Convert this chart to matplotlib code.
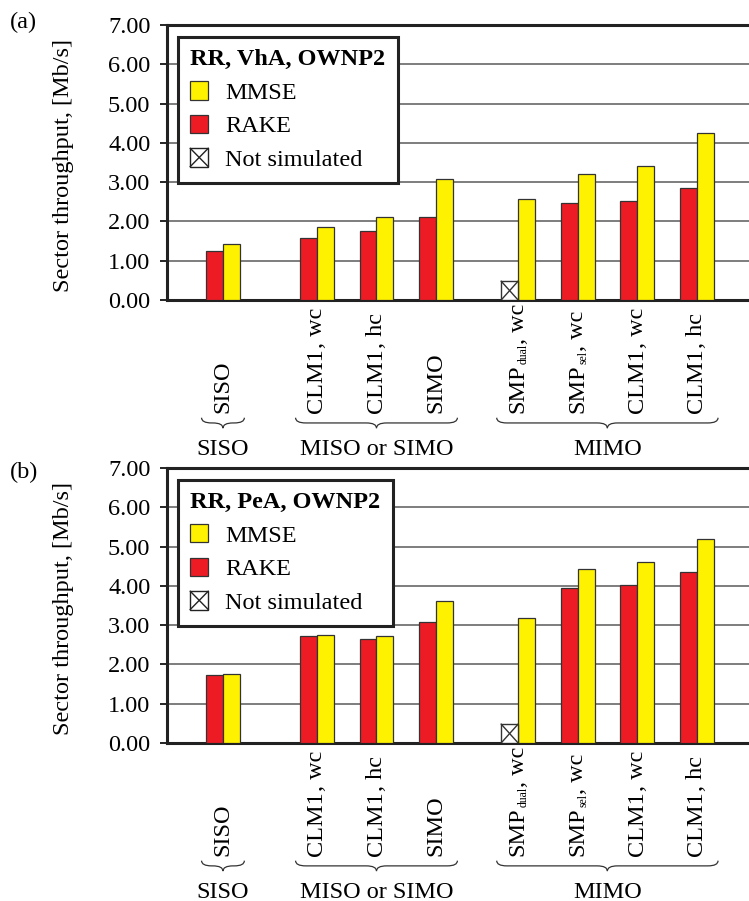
import numpy as np
import matplotlib.pyplot as plt
from matplotlib.patches import Rectangle, Patch, PathPatch
from matplotlib.lines import Line2D
from matplotlib.path import Path
from matplotlib.legend_handler import HandlerBase

plt.rcParams['font.family'] = ['Liberation Serif', 'DejaVu Serif']

# categories, grouped
groups = ["SISO", "MISO or SIMO", "MIMO"]
group_sizes = [1, 3, 4]
cat_main = ["SISO", "CLM1", "CLM1", "SIMO", "SMP", "SMP", "CLM1", "CLM1"]
cat_sub = ["", "", "", "", "dual", "sel", "", ""]
cat_tail = ["", ", wc", ", hc", "", ", wc", ", wc", ", wc", ", hc"]

# panel (a): RR, VhA, OWNP2
rake_a = [1.25, 1.57, 1.76, 2.12, np.nan, 2.46, 2.51, 2.86]
mmse_a = [1.43, 1.86, 2.12, 3.09, 2.58, 3.21, 3.40, 4.26]
# panel (b): RR, PeA, OWNP2
rake_b = [1.73, 2.72, 2.65, 3.07, np.nan, 3.94, 4.02, 4.36]
mmse_b = [1.76, 2.75, 2.72, 3.61, 3.17, 4.43, 4.61, 5.18]
not_sim_height = 0.48  # size of the "Not simulated" marker box

RED = "#ED1C24"
YEL = "#FFF200"
FS = 17.5

# x positions of categories (group starts, unit step inside a group)
group_start = [0.94, 2.52, 5.90]
xpos = np.concatenate([s + np.arange(n) for s, n in zip(group_start, group_sizes)])
bw = 0.285


class NotSimHandler(HandlerBase):
    def create_artists(self, legend, orig_handle, xdescent, ydescent,
                       width, height, fontsize, trans):
        x0, y0 = -xdescent, -ydescent
        r = Rectangle((x0, y0), width, height, facecolor="white",
                      edgecolor="#222222", lw=1.0, transform=trans)
        l1 = Line2D([x0, x0 + width], [y0, y0 + height], color="#222222", lw=1.0, transform=trans)
        l2 = Line2D([x0, x0 + width], [y0 + height, y0], color="#222222", lw=1.0, transform=trans)
        return [r, l1, l2]


class NotSim:
    pass


def brace(ax, x0, x1, ytop, ymid, ytip, r=0.17):
    xm = (x0 + x1) / 2
    verts = [(x0, ytop), (x0, ymid), (x0 + r, ymid),
             (xm - r, ymid),
             (xm, ymid), (xm, ytip),
             (xm, ymid), (xm + r, ymid),
             (x1 - r, ymid),
             (x1, ymid), (x1, ytop)]
    codes = [Path.MOVETO, Path.CURVE3, Path.CURVE3,
             Path.LINETO,
             Path.CURVE3, Path.CURVE3,
             Path.CURVE3, Path.CURVE3,
             Path.LINETO,
             Path.CURVE3, Path.CURVE3]
    ax.add_patch(PathPatch(Path(verts, codes), fill=False, lw=0.9, edgecolor="#333333",
                           transform=ax.get_xaxis_transform(), clip_on=False))


def rotated_label(fig, ax, x, yfrac, main, sub, tail, renderer):
    # stack the pieces of a vertical label from the bottom up (pixels)
    W, H = fig.bbox.width, fig.bbox.height
    xd, yd = ax.transData.transform((x, 0))[0], ax.transAxes.transform((0, yfrac))[1]
    for txt, fs, dx in [(main, FS, 0), (sub, 8.5, 6), (tail, FS, 0)]:
        if not txt:
            continue
        t = fig.text((xd + dx) / W, yd / H, txt, rotation=90, ha="center",
                     va="bottom", fontsize=fs)
        yd += t.get_window_extent(renderer).height


def draw_panel(fig, ax, rake, mmse, title, tag, tag_y):
    ax.set_axisbelow(True)
    ax.yaxis.grid(True, color="#5a5a5a", lw=1.1)
    rake = np.array(rake)
    ok = ~np.isnan(rake)
    ax.bar(xpos[ok] - bw / 2, rake[ok], bw, color=RED, edgecolor="#333333", lw=0.9, zorder=3)
    ax.bar(xpos + bw / 2, mmse, bw, color=YEL, edgecolor="#333333", lw=0.9, zorder=3)
    for x in xpos[~ok]:
        xl = x - bw
        ax.add_patch(Rectangle((xl, 0), bw, not_sim_height, facecolor="white",
                               edgecolor="#333333", lw=1.0, zorder=3))
        ax.plot([xl, xl + bw], [0, not_sim_height], color="#333333", lw=1.0, zorder=4)
        ax.plot([xl, xl + bw], [not_sim_height, 0], color="#333333", lw=1.0, zorder=4)

    ax.set_xlim(0, 9.78)
    ax.set_ylim(0, 7)
    ax.set_yticks(np.arange(0, 8))
    ax.set_yticklabels([f"{v:.2f}" for v in np.arange(0, 8)], fontsize=FS)
    ax.set_xticks([])
    ax.tick_params(axis="y", length=5, width=1.2, pad=7)
    for s in ["left", "top", "bottom"]:
        ax.spines[s].set_linewidth(2.2)
        ax.spines[s].set_color("#222222")
    ax.spines["right"].set_visible(False)
    ax.text(-0.1787, 0.49, "Sector throughput, [Mb/s]", fontsize=FS, rotation=90,
            ha="center", va="center", transform=ax.transAxes)

    renderer = fig.canvas.get_renderer()
    for x, m, sb, tl in zip(xpos, cat_main, cat_sub, cat_tail):
        rotated_label(fig, ax, x, -0.411, m, sb, tl, renderer)

    tr = ax.get_xaxis_transform()
    i = 0
    for g, n in zip(groups, group_sizes):
        x0 = xpos[i] - 0.36
        x1 = xpos[i + n - 1] + 0.36
        brace(ax, x0, x1, -0.428, -0.447, -0.466)
        ax.text((x0 + x1) / 2, -0.542, g, ha="center", va="center",
                fontsize=FS, transform=tr)
        i += n

    handles = [Patch(facecolor=YEL, edgecolor="#333333", lw=0.9),
               Patch(facecolor=RED, edgecolor="#333333", lw=0.9),
               NotSim()]
    leg = ax.legend(handles, ["MMSE", "RAKE", "Not simulated"],
                    handler_map={NotSim: NotSimHandler()},
                    title=title, title_fontproperties={"weight": "bold", "size": FS},
                    alignment="left", fontsize=FS, loc="upper left",
                    bbox_to_anchor=(0.019, 0.956), borderaxespad=0,
                    fancybox=False, framealpha=1, edgecolor="#222222",
                    handlelength=0.74, handleheight=0.78, handletextpad=0.7,
                    labelspacing=0.45, borderpad=0.5)
    leg.get_frame().set_linewidth(2.2)
    leg.set_zorder(5)

    fig.text(0.013, tag_y, tag, fontsize=FS, ha="left", va="center")


fig = plt.figure(figsize=(7.49, 9.01), dpi=100)
ax_a = fig.add_axes([0.223, 0.667, 0.777, 0.3052])
ax_b = fig.add_axes([0.223, 0.1754, 0.777, 0.3052])
draw_panel(fig, ax_a, rake_a, mmse_a, "RR, VhA, OWNP2", "(a)", 0.9756)
draw_panel(fig, ax_b, rake_b, mmse_b, "RR, PeA, OWNP2", "(b)", 0.4761)

fig.savefig("out.png", dpi=100)
